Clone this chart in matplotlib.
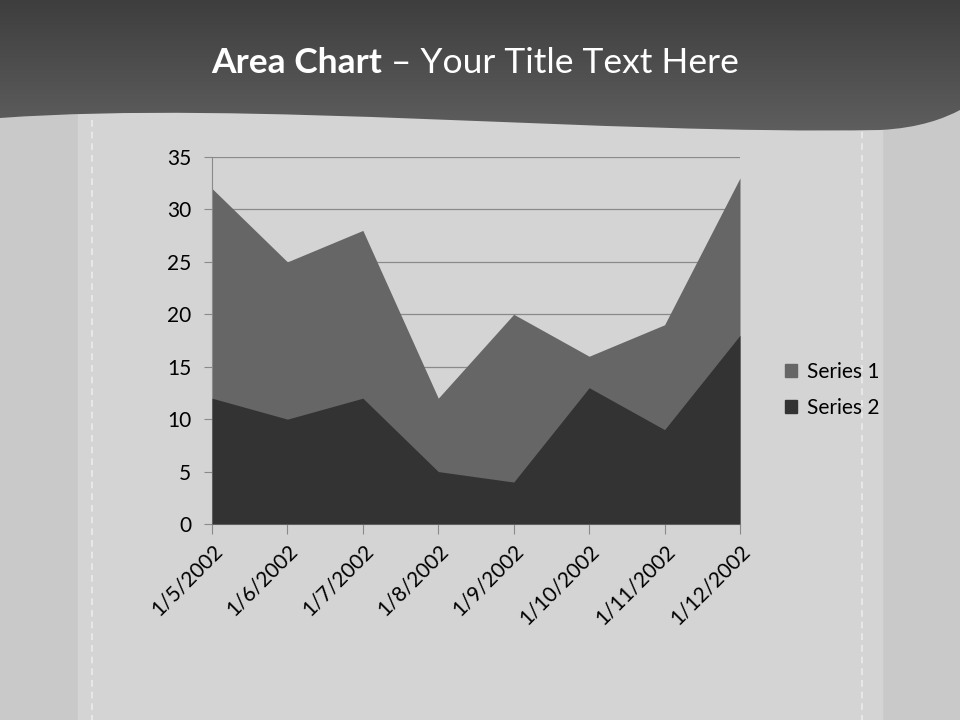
import numpy as np
import matplotlib
matplotlib.use("Agg")
import matplotlib.pyplot as plt
from matplotlib.path import Path
from matplotlib.patches import PathPatch, Patch

# chart data
dates = ["1/5/2002", "1/6/2002", "1/7/2002", "1/8/2002",
         "1/9/2002", "1/10/2002", "1/11/2002", "1/12/2002"]
series1 = [32, 25, 28, 12, 20, 16, 19, 33]
series2 = [12, 10, 12, 5, 4, 13, 9, 18]
yticks = [0, 5, 10, 15, 20, 25, 30, 35]

plt.rcParams['font.family'] = ['Lato', 'DejaVu Sans']

fig = plt.figure(figsize=(9.6, 7.2), dpi=100)

# background: leather-like strip and dark wavy banner
bg = fig.add_axes([0, 0, 1, 1], zorder=-1)
bg.set_xlim(0, 960)
bg.set_ylim(720, 0)
bg.axis("off")
bg.add_patch(plt.Rectangle((0, 0), 960, 720, color="#c9c9c9", zorder=0))
bg.add_patch(plt.Rectangle((78, 0), 804, 720, color="#d4d4d4", zorder=1))
for sx in (92, 862):
    bg.plot([sx, sx], [120, 720], color="white", lw=1.2, ls=(0, (4, 3)), alpha=0.55, zorder=2)

verts = [(0, 0), (0, 118),
         (250, 100), (600, 135), (880, 130),
         (920, 128), (945, 118), (960, 110),
         (960, 0), (0, 0)]
codes = [Path.MOVETO, Path.LINETO,
         Path.CURVE4, Path.CURVE4, Path.CURVE4,
         Path.CURVE4, Path.CURVE4, Path.CURVE4,
         Path.LINETO, Path.CLOSEPOLY]
banner = PathPatch(Path(verts, codes), facecolor="none", edgecolor="none")
bg.add_patch(banner)
grad = np.linspace(0, 1, 140).reshape(-1, 1)
im = bg.imshow(grad, extent=(0, 960, 140, 0), cmap=plt.cm.colors.LinearSegmentedColormap.from_list(
    "ban", ["#3e3e3e", "#606060"]), aspect="auto", zorder=3)
im.set_clip_path(banner)

# title
fig.text(382 / 960, 1 - 63 / 720, "Area Chart", color="white", fontsize=25.5,
         fontweight="bold", ha="right", va="center")
fig.text(382 / 960, 1 - 63 / 720, " \u2013 Your Title Text Here", color="white",
         fontsize=25.5, ha="left", va="center")

# main chart
ax = fig.add_axes([212 / 960, 1 - 524 / 720, 528 / 960, 367 / 720])
ax.patch.set_alpha(0)
x = np.arange(len(dates))
ax.fill_between(x, 0, series1, color="#666666", lw=0, zorder=2, label="Series 1")
ax.fill_between(x, 0, series2, color="#333333", lw=0, zorder=3, label="Series 2")
ax.set_xlim(0, len(dates) - 1)
ax.set_ylim(0, 35)
ax.set_yticks(yticks)
ax.yaxis.grid(True, color="#8a8a8a", lw=0.9, zorder=1)
ax.set_axisbelow(True)
ax.set_xticks(x)
ax.set_xticklabels(dates, rotation=45, ha="right", va="top", rotation_mode="anchor")
for s in ("top", "right"):
    ax.spines[s].set_visible(False)
for s in ("left", "bottom"):
    ax.spines[s].set_color("#8a8a8a")
ax.tick_params(axis="both", colors="#8a8a8a", labelcolor="black", labelsize=15)
ax.tick_params(axis="y", length=6, pad=9)
ax.tick_params(axis="x", length=7, pad=5)

handles = [Patch(color="#666666", label="Series 1"), Patch(color="#333333", label="Series 2")]
fig.legend(handles=handles, loc="center left", bbox_to_anchor=(766 / 960, 1 - 390 / 720),
           frameon=False, fontsize=15, handlelength=0.6, handleheight=0.6,
           handletextpad=0.45, labelspacing=0.75)

fig.savefig("out.png", dpi=100)
